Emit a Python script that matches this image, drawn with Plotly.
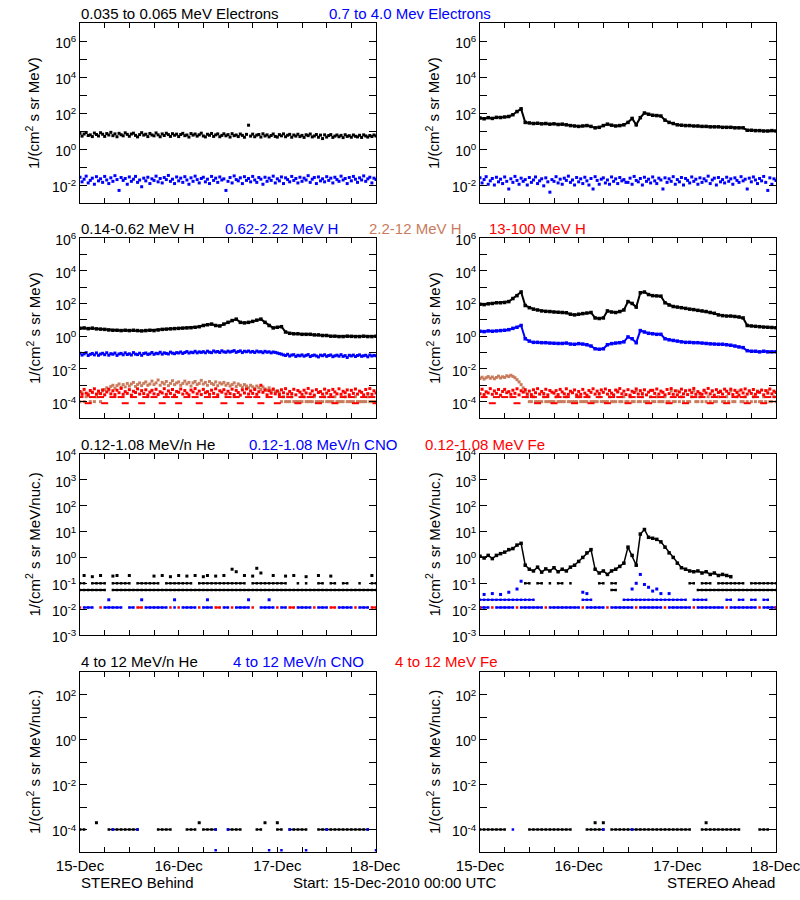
import plotly.graph_objects as go

N = None
HOURS = list(range(73))                  # hourly samples after 15-Dec-2010 00:00 UTC
HALF = [i * 0.5 for i in range(145)]     # half-hourly samples

# ---------------- Row 1: electrons ----------------
beh_e_lo = [7.5, 5.2, 6.8, 8.3, 5.6, 6.1, 4.9, 7.7, 6.4, 5.3, 8.0, 6.6,
            5.0, 7.2, 6.0, 8.4, 5.5, 6.9, 4.8, 7.4, 6.2, 5.4, 7.9, 6.5,
            5.1, 6.8, 7.6, 5.7, 4.7, 6.3, 8.1, 5.9, 6.6, 4.9, 7.3, 6.0,
            5.4, 7.8, 6.1, 4.8, 6.9, 5.6, 7.5, 6.3, 5.0, 7.1, 5.8, 6.7,
            4.9, 6.4, 7.4, 5.5, 6.0, 4.6, 7.2, 5.9, 6.8, 5.2, 6.2, 7.6,
            5.3, 4.7, 6.6, 5.8, 7.3, 5.0, 6.1, 6.9, 4.8, 5.7, 7.0, 5.4,
            6.3, 4.6, 7.1, 5.5, 6.0, 4.9, 6.8, 5.7, 4.5, 6.5, 21.0, 5.2,
            6.7, 4.8, 5.9, 6.4, 4.6, 7.0, 5.3, 6.1, 4.7, 5.6, 6.8, 5.0,
            4.6, 6.3, 5.4, 6.9, 4.8, 5.8, 6.5, 4.5, 6.0, 5.2, 6.6, 4.9,
            5.7, 4.4, 6.2, 5.5, 6.8, 4.7, 5.3, 6.4, 4.5, 5.9, 3.8, 6.1,
            4.6, 5.6, 6.3, 4.4, 5.2, 6.0, 4.8, 5.7, 4.3, 6.2, 5.0, 5.5,
            4.5, 6.0, 5.1, 4.7, 5.8, 4.4, 6.1, 5.3, 4.6, 5.6, 4.9, 6.0,
            5.2]
beh_e_hi = [0.027, 0.015, 0.021, 0.031, 0.013, 0.018, 0.024, 0.011, 0.029, 0.017, 0.022, 0.014,
            0.030, 0.019, 0.012, 0.025, 0.016, 0.033, 0.020, 0.005, 0.026, 0.018, 0.023, 0.011,
            0.028, 0.016, 0.021, 0.030, 0.014, 0.019, 0.008, 0.024, 0.017, 0.027, 0.012, 0.022,
            0.018, 0.031, 0.015, 0.023, 0.013, 0.026, 0.020, 0.034, 0.016, 0.021, 0.012, 0.028,
            0.017, 0.024, 0.014, 0.029, 0.019, 0.011, 0.025, 0.016, 0.031, 0.020, 0.013, 0.023,
            0.027, 0.015, 0.021, 0.012, 0.030, 0.018, 0.024, 0.014, 0.028, 0.019, 0.022, 0.005,
            0.016, 0.026, 0.013, 0.032, 0.020, 0.017, 0.025, 0.012, 0.029, 0.018, 0.023, 0.015,
            0.030, 0.019, 0.014, 0.026, 0.021, 0.011, 0.027, 0.016, 0.024, 0.018, 0.031, 0.013,
            0.022, 0.017, 0.028, 0.012, 0.025, 0.020, 0.015, 0.030, 0.018, 0.023, 0.013, 0.027,
            0.016, 0.024, 0.019, 0.033, 0.014, 0.021, 0.026, 0.012, 0.028, 0.017, 0.022, 0.015,
            0.029, 0.018, 0.024, 0.013, 0.027, 0.020, 0.016, 0.031, 0.019, 0.023, 0.012, 0.026,
            0.017, 0.030, 0.021, 0.014, 0.025, 0.019, 0.032, 0.016, 0.022, 0.027, 0.013, 0.024,
            0.020]
ahd_e_lo = [52, 48, 55, 50, 57, 56, 60, 64, 80, 120, 170, 30,
            28, 26, 27, 25, 26, 24, 25, 23, 24, 22, 20, 19,
            18, 19, 20, 18, 15, 16, 20, 24, 21, 19, 20, 22,
            30, 50, 22, 55, 100, 85, 75, 72, 68, 40, 30, 26,
            22, 21, 20, 20, 19, 19, 18, 18, 17, 17, 17, 16,
            16, 16, 15, 15, 15, 11, 11, 10.5, 10.5, 10, 10, 10.5, 10]
ahd_e_hi = [0.025, 0.013, 0.020, 0.029, 0.011, 0.017, 0.023, 0.010, 0.027, 0.015, 0.021, 0.012,
            0.028, 0.016, 0.006, 0.022, 0.014, 0.030, 0.018, 0.011, 0.024, 0.016, 0.020, 0.010,
            0.026, 0.014, 0.019, 0.028, 0.012, 0.017, 0.022, 0.009, 0.025, 0.015, 0.004, 0.020,
            0.016, 0.029, 0.013, 0.021, 0.011, 0.024, 0.018, 0.031, 0.014, 0.019, 0.010, 0.026,
            0.015, 0.022, 0.012, 0.027, 0.017, 0.010, 0.023, 0.006, 0.029, 0.018, 0.011, 0.021,
            0.025, 0.013, 0.019, 0.011, 0.028, 0.016, 0.022, 0.012, 0.026, 0.017, 0.020, 0.014,
            0.014, 0.024, 0.011, 0.030, 0.018, 0.015, 0.023, 0.010, 0.027, 0.016, 0.021, 0.013,
            0.028, 0.017, 0.012, 0.024, 0.019, 0.006, 0.025, 0.014, 0.022, 0.016, 0.029, 0.011,
            0.020, 0.015, 0.026, 0.010, 0.023, 0.018, 0.013, 0.028, 0.016, 0.021, 0.011, 0.025,
            0.014, 0.022, 0.017, 0.031, 0.012, 0.019, 0.024, 0.010, 0.026, 0.015, 0.020, 0.013,
            0.027, 0.016, 0.022, 0.011, 0.025, 0.018, 0.014, 0.029, 0.017, 0.021, 0.006, 0.024,
            0.015, 0.028, 0.019, 0.012, 0.023, 0.017, 0.030, 0.014, 0.005, 0.025, 0.011, 0.022,
            0.018]

# ---------------- Row 2: protons ----------------
beh_h1 = [3.0, 3.2, 2.9, 3.1, 2.8, 2.7, 2.6, 2.4, 2.3, 2.3, 2.2, 2.3,
          2.2, 2.3, 2.2, 2.1, 2.2, 2.3, 2.2, 2.4, 2.6, 2.7, 2.8, 2.9,
          3.0, 3.1, 3.2, 3.3, 3.5, 3.8, 4.5, 5.0, 5.5, 4.5, 4.2, 5.5,
          7.0, 9.0, 11.0, 7.0, 6.5, 7.0, 8.0, 9.5, 11.0, 7.0, 4.5, 3.2,
          3.5, 3.8, 1.8, 1.5, 1.4, 1.4, 1.3, 1.3, 1.3, 1.2, 1.2, 1.1,
          1.1, 1.0, 1.0, 0.95, 0.95, 1.0, 0.98, 0.95, 0.95, 1.0, 0.95, 0.95, 1.0]
beh_h2 = [0.092, 0.070, 0.083, 0.098, 0.066, 0.078, 0.088, 0.072, 0.095, 0.068, 0.081, 0.090,
          0.074, 0.097, 0.069, 0.085, 0.079, 0.093, 0.067, 0.082, 0.089, 0.073, 0.096, 0.076,
          0.084, 0.071, 0.099, 0.080, 0.075, 0.091, 0.068, 0.087, 0.094, 0.077, 0.083, 0.101,
          0.078, 0.090, 0.085, 0.104, 0.080, 0.096, 0.088, 0.082, 0.106, 0.092, 0.085, 0.099,
          0.094, 0.108, 0.088, 0.101, 0.115, 0.093, 0.105, 0.098, 0.119, 0.096, 0.110, 0.102,
          0.113, 0.097, 0.121, 0.105, 0.099, 0.125, 0.108, 0.116, 0.101, 0.128, 0.110, 0.104,
          0.122, 0.107, 0.118, 0.131, 0.103, 0.115, 0.126, 0.100, 0.120, 0.112, 0.124, 0.106,
          0.117, 0.101, 0.123, 0.109, 0.114, 0.098, 0.119, 0.105, 0.111, 0.096, 0.108, 0.102,
          0.094, 0.086, 0.080, 0.072, 0.066, 0.078, 0.061, 0.070, 0.074, 0.058, 0.068, 0.063,
          0.072, 0.060, 0.067, 0.075, 0.057, 0.065, 0.070, 0.062, 0.054, 0.069, 0.064, 0.073,
          0.059, 0.066, 0.071, 0.056, 0.063, 0.069, 0.060, 0.074, 0.058, 0.065, 0.050, 0.068,
          0.062, 0.070, 0.057, 0.066, 0.072, 0.059, 0.064, 0.068, 0.055, 0.071, 0.061, 0.067,
          0.063]
beh_h3 = [1.0e-4, 3.5e-4, 1.0e-4, 2.0e-4, 3.0e-4, 1.0e-4, 3.8e-4, 1.0e-4, 2.0e-4, 3.3e-4, 1.0e-4, 4.5e-4,
          5.5e-4, 7.0e-4, 5.0e-4, 8.5e-4, 1.0e-3, 6.5e-4, 9.5e-4, 1.2e-3, 7.5e-4, 1.1e-3, 8.0e-4, 1.3e-3,
          9.0e-4, 1.2e-3, 1.5e-3, 8.5e-4, 1.1e-3, 1.4e-3, 9.5e-4, 1.3e-3, 1.6e-3, 1.0e-3, 1.2e-3, 1.8e-3,
          1.1e-3, 1.4e-3, 2.1e-3, 1.0e-3, 1.5e-3, 1.2e-3, 1.7e-3, 9.5e-4, 1.3e-3, 1.9e-3, 1.1e-3, 1.4e-3,
          1.6e-3, 1.0e-3, 1.3e-3, 1.8e-3, 1.2e-3, 1.5e-3, 9.0e-4, 1.4e-3, 1.7e-3, 1.1e-3, 1.3e-3, 2.0e-3,
          1.2e-3, 1.5e-3, 1.0e-3, 1.7e-3, 1.3e-3, 1.1e-3, 1.6e-3, 9.5e-4, 1.4e-3, 1.2e-3, 1.5e-3, 1.0e-3,
          1.3e-3, 9.0e-4, 1.1e-3, 1.4e-3, 8.5e-4, 1.2e-3, 1.0e-3, 7.5e-4, 1.1e-3, 9.0e-4, 7.0e-4, 1.0e-3,
          8.0e-4, 6.5e-4, 9.0e-4, 7.0e-4, 5.5e-4, 8.0e-4, 6.0e-4, 5.0e-4, 7.0e-4, 4.5e-4, 5.5e-4, 4.0e-4,
          4.5e-4, 3.5e-4, 1.0e-4, 2.0e-4, 1.0e-4, 1.0e-4, 1.0e-4, 2.0e-4, 1.0e-4, 1.0e-4, 1.0e-4, 1.0e-4,
          1.0e-4, 2.0e-4, 1.0e-4, 1.0e-4, 1.0e-4, 1.0e-4, 2.0e-4, 1.0e-4, 1.0e-4, 1.0e-4, 1.0e-4, 2.0e-4,
          1.0e-4, 1.0e-4, 1.0e-4, 1.0e-4, 2.0e-4, 1.0e-4, 1.0e-4, 1.0e-4, 1.0e-4, 2.0e-4, 1.0e-4, 1.0e-4,
          1.0e-4, 1.0e-4, 2.0e-4, 1.0e-4, 1.0e-4, 1.0e-4, 1.0e-4, 1.0e-4, 2.0e-4, 1.0e-4, 1.0e-4, 1.0e-4,
          1.0e-4]
beh_h4 = [4.2e-4, 2.8e-4, 5.6e-4, 3.3e-4, 2.5e-4, 4.8e-4, 3.7e-4, 6.1e-4, 2.9e-4, 4.4e-4, 3.1e-4, 5.2e-4,
          2.6e-4, 3.9e-4, 5.8e-4, 3.0e-4, 4.6e-4, 2.7e-4, 5.0e-4, 3.5e-4, 6.4e-4, 2.8e-4, 4.1e-4, 3.2e-4,
          5.4e-4, 2.5e-4, 4.3e-4, 3.6e-4, 6.0e-4, 2.9e-4, 4.7e-4, 3.1e-4, 5.3e-4, 2.6e-4, 3.8e-4, 4.9e-4,
          3.0e-4, 5.7e-4, 2.7e-4, 4.0e-4, 3.4e-4, 6.2e-4, 2.8e-4, 4.5e-4, 3.2e-4, 5.5e-4, 2.5e-4, 4.2e-4,
          3.7e-4, 5.9e-4, 2.9e-4, 4.8e-4, 3.3e-4, 2.6e-4, 5.1e-4, 3.9e-4, 6.3e-4, 3.0e-4, 4.4e-4, 2.7e-4,
          5.6e-4, 3.5e-4, 4.1e-4, 2.8e-4, 5.0e-4, 3.2e-4, 6.1e-4, 2.6e-4, 4.6e-4, 3.8e-4, 5.4e-4, 2.9e-4,
          4.3e-4, 3.1e-4, 5.8e-4, 2.7e-4, 4.9e-4, 3.6e-4, 2.5e-4, 5.2e-4, 3.4e-4, 6.0e-4, 2.9e-4, 4.5e-4,
          3.2e-4, 5.5e-4, 2.8e-4, 4.0e-4, 1.0e-3, 3.7e-4, 5.1e-4, 2.6e-4, 4.7e-4, 3.3e-4, 5.9e-4, 3.0e-4,
          4.4e-4, 2.7e-4, 5.3e-4, 3.5e-4, 6.2e-4, 2.9e-4, 4.2e-4, 3.1e-4, 5.7e-4, 2.6e-4, 4.8e-4, 3.8e-4,
          2.8e-4, 5.0e-4, 3.4e-4, 6.4e-4, 3.0e-4, 4.5e-4, 2.5e-4, 5.4e-4, 3.6e-4, 4.1e-4, 2.9e-4, 5.8e-4,
          3.3e-4, 4.7e-4, 2.7e-4, 5.6e-4, 3.9e-4, 3.0e-4, 6.1e-4, 2.8e-4, 4.3e-4, 3.5e-4, 5.2e-4, 2.6e-4,
          4.9e-4, 3.2e-4, 5.9e-4, 2.9e-4, 4.4e-4, 3.7e-4, 2.6e-4, 5.5e-4, 3.1e-4, 6.3e-4, 2.8e-4, 4.6e-4,
          3.4e-4]
beh_h4_low = [1.9e-4, N, 8e-5, 1.9e-4, N, 1.9e-4, 8e-5, N, 1.9e-4, N, 1.9e-4, 8e-5,
              N, 1.9e-4, N, 8e-5, 1.9e-4, N, 1.9e-4, N, 8e-5, 1.9e-4, N, 1.9e-4,
              8e-5, N, 1.9e-4, N, 1.9e-4, 8e-5, N, 1.9e-4, N, 1.9e-4, N, 8e-5,
              1.9e-4, N, 1.9e-4, 8e-5, N, 1.9e-4, N, 1.9e-4, 8e-5, N, 1.9e-4, N,
              8e-5, 1.9e-4, N, 1.9e-4, N, 8e-5, 1.9e-4, N, 1.9e-4, N, 8e-5, 1.9e-4,
              N, 1.9e-4, 8e-5, N, 1.9e-4, N, 1.9e-4, 8e-5, N, 1.9e-4, N, 1.9e-4, 8e-5]

ahd_h1 = [90, 85, 95, 100, 110, 110, 115, 130, 200, 300, 500, 75,
          55, 45, 40, 35, 33, 32, 30, 29, 28, 27, 22, 20,
          22, 24, 26, 28, 13, 12, 13, 35, 30, 28, 32, 40,
          130, 100, 60, 450, 500, 350, 300, 290, 280, 110, 80, 65,
          60, 55, 50, 45, 42, 38, 35, 32, 28, 25, 20, 18,
          17, 17, 16, 15, 13, 4.5, 4.2, 4.0, 3.8, 3.6, 3.5, 3.4, 3.3]
ahd_h2 = [2.0, 1.9, 2.1, 2.0, 2.1, 2.2, 2.3, 2.5, 3.0, 3.5, 4.5, 0.7,
          0.5, 0.42, 0.42, 0.4, 0.4, 0.38, 0.37, 0.36, 0.36, 0.38, 0.33, 0.32,
          0.35, 0.33, 0.3, 0.25, 0.17, 0.16, 0.17, 0.3, 0.35, 0.38, 0.4, 0.45,
          0.9, 0.7, 0.4, 2.2, 1.8, 1.5, 1.4, 1.3, 1.3, 0.7, 0.6, 0.55,
          0.5, 0.45, 0.42, 0.42, 0.4, 0.4, 0.38, 0.36, 0.34, 0.33, 0.32, 0.32,
          0.3, 0.28, 0.25, 0.22, 0.2, 0.13, 0.12, 0.12, 0.11, 0.12, 0.11, 0.11, 0.11]
ahd_h3 = [2.6e-3, 3.1e-3, 2.4e-3, 2.9e-3, 3.4e-3, 2.7e-3, 3.2e-3, 2.5e-3, 3.0e-3, 3.6e-3, 2.8e-3, 3.3e-3,
          3.0e-3, 3.8e-3, 3.4e-3, 4.1e-3, 3.5e-3, 2.9e-3, 2.2e-3, 1.6e-3, 1.1e-3, 7.0e-4, 4.0e-4, 2.0e-4,
          1.0e-4, 1.0e-4, 2.0e-4, 1.0e-4, 1.0e-4, 1.0e-4, 1.0e-4, 2.0e-4, 1.0e-4, 1.0e-4, 1.0e-4, 1.0e-4,
          1.0e-4, 2.0e-4, 1.0e-4, 1.0e-4, 1.0e-4, 1.0e-4, 2.0e-4, 1.0e-4, 1.0e-4, 1.0e-4, 1.0e-4, 1.0e-4,
          2.0e-4, 1.0e-4, 1.0e-4, 1.0e-4, 1.0e-4, 2.0e-4, 1.0e-4, 1.0e-4, 1.0e-4, 1.0e-4, 2.0e-4, 1.0e-4,
          1.0e-4, 1.0e-4, 1.0e-4, 2.0e-4, 1.0e-4, 1.0e-4, 1.0e-4, 4.5e-4, 1.0e-4, 1.0e-4, 2.0e-4, 1.0e-4,
          1.0e-4, 2.0e-4, 1.0e-4, 1.0e-4, 4.5e-4, 1.0e-4, 1.0e-4, 2.0e-4, 1.0e-4, 1.0e-4, 1.0e-4, 2.0e-4,
          1.0e-4, 1.0e-4, 2.0e-4, 1.0e-4, 1.0e-4, 1.0e-4, 2.0e-4, 1.0e-4, 1.0e-4, 4.5e-4, 1.0e-4, 1.0e-4,
          4.5e-4, 1.0e-4, 2.0e-4, 1.0e-4, 4.5e-4, 1.0e-4, 1.0e-4, 2.0e-4, 4.5e-4, 1.0e-4, 1.0e-4, 2.0e-4,
          1.0e-4, 4.5e-4, 1.0e-4, 2.0e-4, 1.0e-4, 4.5e-4, 1.0e-4, 1.0e-4, 2.0e-4, 4.5e-4, 1.0e-4, 1.0e-4,
          2.0e-4, 1.0e-4, 4.5e-4, 1.0e-4, 1.0e-4, 2.0e-4, 4.5e-4, 1.0e-4, 1.0e-4, 2.0e-4, 1.0e-4, 4.5e-4,
          1.0e-4, 2.0e-4, 1.0e-4, 4.5e-4, 1.0e-4, 1.0e-4, 2.0e-4, 1.0e-4, 4.5e-4, 1.0e-4, 1.0e-4, 2.0e-4,
          1.0e-4]
ahd_h4 = [3.0e-4, 5.7e-4, 2.7e-4, 4.0e-4, 3.4e-4, 6.2e-4, 2.8e-4, 4.5e-4, 3.2e-4, 5.5e-4, 2.5e-4, 4.2e-4,
          5.6e-4, 3.5e-4, 4.1e-4, 2.8e-4, 5.0e-4, 3.2e-4, 6.1e-4, 2.6e-4, 4.6e-4, 3.8e-4, 5.4e-4, 2.9e-4,
          4.4e-4, 2.7e-4, 5.3e-4, 3.5e-4, 6.2e-4, 2.9e-4, 4.2e-4, 3.1e-4, 5.7e-4, 2.6e-4, 4.8e-4, 3.8e-4,
          3.3e-4, 4.7e-4, 2.7e-4, 5.6e-4, 3.9e-4, 3.0e-4, 6.1e-4, 2.8e-4, 4.3e-4, 3.5e-4, 5.2e-4, 2.6e-4,
          4.2e-4, 2.8e-4, 5.6e-4, 3.3e-4, 2.5e-4, 4.8e-4, 3.7e-4, 6.1e-4, 2.9e-4, 4.4e-4, 3.1e-4, 5.2e-4,
          3.7e-4, 5.9e-4, 2.9e-4, 4.8e-4, 3.3e-4, 2.6e-4, 5.1e-4, 3.9e-4, 6.3e-4, 3.0e-4, 4.4e-4, 2.7e-4,
          5.4e-4, 2.5e-4, 4.3e-4, 3.6e-4, 6.0e-4, 2.9e-4, 4.7e-4, 3.1e-4, 5.3e-4, 2.6e-4, 3.8e-4, 4.9e-4,
          4.9e-4, 3.2e-4, 5.9e-4, 2.9e-4, 4.4e-4, 3.7e-4, 2.6e-4, 5.5e-4, 3.1e-4, 6.3e-4, 2.8e-4, 4.6e-4,
          2.6e-4, 3.9e-4, 5.8e-4, 3.0e-4, 4.6e-4, 2.7e-4, 5.0e-4, 3.5e-4, 6.4e-4, 2.8e-4, 4.1e-4, 3.2e-4,
          2.8e-4, 5.0e-4, 3.4e-4, 6.4e-4, 3.0e-4, 4.5e-4, 2.5e-4, 5.4e-4, 3.6e-4, 4.1e-4, 2.9e-4, 5.8e-4,
          4.3e-4, 3.1e-4, 5.8e-4, 2.7e-4, 4.9e-4, 3.6e-4, 2.5e-4, 5.2e-4, 3.4e-4, 6.0e-4, 2.9e-4, 4.5e-4,
          3.2e-4, 5.5e-4, 2.8e-4, 4.0e-4, 3.7e-4, 5.1e-4, 2.6e-4, 4.7e-4, 3.3e-4, 5.9e-4, 3.0e-4, 4.4e-4,
          3.6e-4]
ahd_h4_low = [N, 1.9e-4, N, 8e-5, 1.9e-4, N, 1.9e-4, N, 1.9e-4, 8e-5, N, 1.9e-4,
              N, 1.9e-4, 8e-5, N, 1.9e-4, N, 8e-5, 1.9e-4, N, 1.9e-4, N, 8e-5,
              1.9e-4, N, 1.9e-4, 8e-5, N, 1.9e-4, N, 8e-5, 1.9e-4, N, 1.9e-4, N,
              8e-5, 1.9e-4, N, 1.9e-4, N, 8e-5, 1.9e-4, N, 1.9e-4, N, 8e-5, 1.9e-4,
              N, 1.9e-4, 8e-5, N, 1.9e-4, N, 1.9e-4, N, 8e-5, 1.9e-4, N, 1.9e-4,
              8e-5, N, 1.9e-4, N, 1.9e-4, 8e-5, N, 1.9e-4, N, 8e-5, 1.9e-4, N, 1.9e-4]

# ---------------- Row 3: 0.12-1.08 MeV/n ions ----------------
beh_he_lo = [0.055, 0.055, 0.055, 0.055, 0.055, 0.055, 0.055, N, 0.055, 0.055, 0.055, 0.055,
             0.055, 0.055, 0.055, 0.055, 0.055, 0.055, 0.055, 0.055, 0.055, 0.055, 0.055, 0.055,
             0.055, 0.055, 0.055, 0.055, 0.055, 0.055, 0.055, 0.055, 0.055, 0.055, 0.055, 0.055,
             0.055, 0.055, 0.055, 0.055, 0.055, 0.055, 0.055, 0.055, 0.055, 0.055, 0.055, 0.055,
             0.055, 0.055, 0.055, 0.055, 0.055, 0.055, 0.055, 0.055, 0.055, 0.055, 0.055, 0.055,
             0.055, 0.055, 0.055, 0.055, 0.055, 0.055, 0.055, 0.055, 0.055, 0.055, 0.055, 0.055, 0.055]
beh_he_mid = [0.1, 0.1, N, 0.1, 0.1, 0.1, 0.1, N, 0.1, 0.1, 0.1, 0.1,
              0.1, N, 0.1, 0.1, 0.1, 0.1, 0.1, 0.1, N, 0.1, 0.1, 0.1,
              0.1, 0.1, 0.1, 0.1, N, 0.1, 0.1, 0.1, 0.1, 0.1, 0.1, 0.1,
              0.1, 0.1, 0.1, 0.1, 0.1, N, 0.1, 0.1, 0.1, 0.1, 0.1, 0.1,
              0.1, 0.1, 0.1, N, N, 0.1, N, 0.1, N, N, 0.1, 0.1,
              N, 0.1, 0.1, N, 0.1, 0.1, N, N, 0.1, N, N, 0.1, 0.1]
beh_he_hi_t = [1, 3, 5, 8, 9, 12, 18, 20, 22, 24, 26, 28, 30, 31, 33, 35, 37, 38, 40, 42, 43, 44, 47, 50, 52, 55, 58, 61, 71]
beh_he_hi = [0.2, 0.18, 0.2, 0.19, 0.2, 0.2, 0.19, 0.2, 0.18, 0.2, 0.19, 0.2, 0.18, 0.2, 0.19, 0.2, 0.35, 0.28, 0.2, 0.19, 0.38, 0.25, 0.2, 0.19, 0.2, 0.18, 0.2, 0.19, 0.2]
beh_cno = [N, 0.0116, 0.0116, 0.0116, N, N, 0.0116, 0.0116, 0.0116, 0.0116, 0.0116, N,
           0.0116, 0.0116, N, N, 0.0116, 0.0116, 0.0116, 0.0116, 0.0116, 0.0116, N, 0.0116,
           N, 0.0116, 0.0116, 0.0116, 0.0116, N, 0.0116, 0.0116, 0.0116, N, N, 0.0116,
           0.0116, N, 0.0116, 0.0116, 0.0116, 0.0116, N, N, 0.0116, 0.0116, 0.0116, 0.0116,
           N, 0.0116, 0.0116, N, N, 0.0116, 0.0116, 0.0116, 0.0116, N, 0.0116, 0.0116,
           0.0116, N, N, 0.0116, 0.0116, 0.0116, 0.0116, N, 0.0116, 0.0116, 0.0116, N, N]
beh_cno_hi_t = [7, 15, 23, 31, 41, 46]
beh_cno_hi = [0.023, 0.023, 0.023, 0.023, 0.023, 0.023]
beh_fe = [0.0116, N, N, N, N, 0.0116, N, N, N, N, N, N,
          N, N, 0.0116, 0.0116, N, N, N, N, N, N, 0.0116, N,
          0.0116, N, N, N, N, 0.0116, N, N, N, 0.0116, 0.0116, N,
          N, 0.0116, N, N, N, N, 0.0116, N, N, N, N, N,
          0.0116, N, N, 0.0116, 0.0116, N, N, N, N, 0.0116, N, N,
          N, 0.0116, 0.0116, N, N, N, N, 0.0116, N, N, N, 0.0116, 0.0116]

ahd_he = [1.1, 0.95, 1.2, 0.9, 1.2, 1.4, 1.6, 2.0, 2.2, 3.0, 3.5, 0.5,
          0.35, 0.3, 0.42, 0.27, 0.36, 0.3, 0.4, 0.28, 0.35, 0.3, 0.42, 0.5,
          0.7, 1.0, 1.5, 2.0, 0.35, 0.25, 0.3, 0.22, 0.3, 0.35, 0.45, 0.6,
          2.5, 1.2, 0.5, 8.0, 12.0, 6.0, 5.5, 5.0, 4.0, 2.5, 1.5, 1.0,
          0.6, 0.4, 0.35, 0.3, 0.28, 0.3, 0.25, 0.28, 0.22, 0.25, 0.2, 0.22,
          0.2, 0.18]
ahd_he_mid = [N, N, N, N, N, N, N, N, N, N, N, 0.1,
              0.1, N, 0.1, 0.1, N, 0.1, N, 0.1, 0.1, N, 0.1, N,
              N, N, N, N, N, 0.1, 0.1, N, 0.1, 0.1, N, N,
              N, N, N, N, N, N, N, N, N, N, N, N,
              N, N, N, 0.1, 0.1, N, 0.1, 0.1, 0.1, N, 0.1, 0.1,
              0.1, 0.1, 0.1, 0.1, 0.1, N, 0.1, 0.1, 0.1, 0.1, 0.1, 0.1, 0.1]
ahd_he_lo = [N, N, N, N, N, N, N, N, N, N, N, N,
             N, N, N, N, N, N, N, N, N, N, N, N,
             N, N, N, N, N, N, N, N, 0.055, 0.055, N, N,
             N, N, N, N, N, N, N, N, N, N, N, N,
             N, N, N, N, N, 0.055, 0.055, 0.055, 0.055, 0.055, 0.055, 0.055,
             0.055, 0.055, 0.055, 0.055, 0.055, 0.055, 0.055, 0.055, 0.055, 0.055, 0.055, 0.055, 0.055]
ahd_cno = [0.0116, 0.0116, 0.0116, N, 0.0116, 0.0116, 0.0116, 0.0116, 0.0116, N, 0.0116, 0.0116,
           0.0116, 0.0116, 0.0116, 0.0116, N, 0.0116, 0.0116, 0.0116, 0.0116, 0.0116, 0.0116, 0.0116,
           0.0116, N, 0.0116, 0.0116, 0.0116, 0.0116, 0.0116, N, 0.0116, 0.0116, 0.0116, 0.0116,
           0.0116, 0.0116, N, 0.0116, 0.0116, 0.0116, 0.0116, 0.0116, 0.0116, N, 0.0116, 0.0116,
           0.0116, 0.0116, 0.0116, 0.0116, N, 0.0116, 0.0116, 0.0116, 0.0116, 0.0116, 0.0116, 0.0116,
           N, 0.0116, 0.0116, 0.0116, 0.0116, 0.0116, 0.0116, 0.0116, N, 0.0116, 0.0116, 0.0116, 0.0116]
ahd_cno_mid = [0.023, 0.023, 0.023, 0.023, 0.023, 0.023, 0.023, 0.023, 0.023, 0.023, 0.023, 0.023,
               0.023, 0.023, N, N, N, N, N, N, N, N, N, N,
               N, 0.023, 0.023, 0.023, N, N, N, N, N, N, N, 0.023,
               0.023, 0.023, 0.023, 0.023, 0.023, 0.023, 0.023, 0.023, 0.023, 0.023, 0.023, 0.023,
               0.023, 0.023, 0.023, N, 0.023, 0.023, 0.023, 0.023, N, N, N, N,
               0.023, 0.023, N, 0.023, 0.023, N, 0.023, 0.023, N, 0.023, 0.023, N, N]
ahd_cno_hi_t = [1, 3, 5, 7, 9, 10, 25, 26, 37, 38, 39, 40, 41, 42, 43, 44, 46]
ahd_cno_hi = [0.037, 0.04, 0.037, 0.045, 0.06, 0.12, 0.045, 0.04, 0.06, 0.1, 0.22, 0.09, 0.07, 0.05, 0.06, 0.04, 0.04]
ahd_fe = [0.0116, N, N, 0.0116, N, N, N, N, N, 0.0116, N, N,
          N, N, N, N, 0.0116, N, N, N, N, N, N, N,
          N, 0.0116, N, N, N, N, N, 0.0116, N, N, N, N,
          N, N, 0.0116, N, N, N, N, N, N, 0.0116, N, N,
          N, N, N, N, 0.0116, N, N, N, N, N, N, N,
          0.0116, N, N, N, N, N, N, N, 0.0116, N, N, N, 0.0116]

# ---------------- Row 4: 4-12 MeV/n ions ----------------
beh4_he = [1e-4, 1e-4, N, N, N, N, N, 1e-4, 1e-4, 1e-4, 1e-4, 1e-4,
           1e-4, 1e-4, 1e-4, N, N, N, N, 1e-4, 1e-4, 1e-4, 1e-4, N,
           N, N, 1e-4, 1e-4, 1e-4, N, 1e-4, 1e-4, 1e-4, 1e-4, N, N,
           1e-4, 1e-4, 1e-4, 1e-4, N, N, N, 1e-4, 1e-4, N, N, N,
           1e-4, 1e-4, N, 1e-4, 1e-4, 1e-4, 1e-4, 1e-4, N, N, 1e-4, 1e-4,
           1e-4, 1e-4, 1e-4, 1e-4, 1e-4, 1e-4, 1e-4, 1e-4, 1e-4, 1e-4, 1e-4, N, N]
beh4_he_hi_t = [4, 29, 45, 48]
beh4_he_hi = [2e-4, 2e-4, 2e-4, 2e-4]
beh4_cno_t = [8, 14, 33, 36, 51, 60, 70, 33, 46, 49, 55, 72]
beh4_cno = [1e-4, 1e-4, 1e-4, 1e-4, 1e-4, 1e-4, 1e-4, 1.2e-5, 1.2e-5, 1.2e-5, 1.2e-5, 1.2e-5]
ahd4_he = [1e-4, 1e-4, 1e-4, 1e-4, 1e-4, 1e-4, 1e-4, N, N, N, N, N,
           1e-4, 1e-4, 1e-4, 1e-4, 1e-4, 1e-4, 1e-4, 1e-4, 1e-4, 1e-4, 1e-4, N,
           N, N, 1e-4, 1e-4, 1e-4, 1e-4, 1e-4, N, 1e-4, 1e-4, 1e-4, 1e-4,
           1e-4, 1e-4, 1e-4, 1e-4, 1e-4, 1e-4, 1e-4, 1e-4, 1e-4, 1e-4, 1e-4, 1e-4,
           1e-4, 1e-4, 1e-4, 1e-4, N, N, 1e-4, 1e-4, 1e-4, 1e-4, 1e-4, 1e-4,
           1e-4, 1e-4, 1e-4, 1e-4, N, N, N, N, 1e-4, 1e-4, 1e-4, N, N]
ahd4_he_hi_t = [28, 30, 55]
ahd4_he_hi = [2e-4, 2e-4, 2e-4]
ahd4_cno_t = [8, 30, 37]
ahd4_cno = [1e-4, 1e-4, 1e-4]

BLACK, BLUE, SIENNA, RED = "#000000", "#0000ff", "#c97c5d", "#ff0000"

fig = go.Figure()


def axes_ids(i):
    return ("x" if i == 1 else f"x{i}"), ("y" if i == 1 else f"y{i}")


def band(i, values, color, size=3.5, width=2):
    """Structured time series: dots joined by a thick trace."""
    xa, ya = axes_ids(i)
    fig.add_trace(go.Scatter(x=HOURS[:len(values)], y=values, xaxis=xa, yaxis=ya, mode="lines+markers",
                             line=dict(color=color, width=width),
                             marker=dict(color=color, size=size, symbol="square", line=dict(width=0)),
                             showlegend=False, hoverinfo="skip", connectgaps=False))


def cloud(i, values, color, size=3):
    """Noisy half-hourly series: unjoined dots."""
    xa, ya = axes_ids(i)
    fig.add_trace(go.Scatter(x=HALF[:len(values)], y=values, xaxis=xa, yaxis=ya, mode="markers",
                             marker=dict(color=color, size=size, symbol="square", line=dict(width=0)),
                             showlegend=False, hoverinfo="skip"))


def dots(i, times, values, color, size=3):
    xa, ya = axes_ids(i)
    fig.add_trace(go.Scatter(x=times, y=values, xaxis=xa, yaxis=ya, mode="markers",
                             marker=dict(color=color, size=size, symbol="square", line=dict(width=0)),
                             showlegend=False, hoverinfo="skip"))


def dashes(i, values, color, size=5):
    xa, ya = axes_ids(i)
    fig.add_trace(go.Scatter(x=HOURS[:len(values)], y=values, xaxis=xa, yaxis=ya, mode="markers",
                             marker=dict(color=color, size=size, symbol="line-ew",
                                         line=dict(color=color, width=2)),
                             showlegend=False, hoverinfo="skip"))


def floor(i, values, color, width=2):
    xa, ya = axes_ids(i)
    fig.add_trace(go.Scatter(x=HOURS[:len(values)], y=values, xaxis=xa, yaxis=ya, mode="lines+markers",
                             line=dict(color=color, width=width),
                             marker=dict(color=color, size=2.5, symbol="square", line=dict(width=0)),
                             showlegend=False, hoverinfo="skip", connectgaps=False))


# Row 1
cloud(1, beh_e_lo, BLACK)
cloud(1, beh_e_hi, BLUE)
band(2, ahd_e_lo, BLACK)
cloud(2, ahd_e_hi, BLUE)
# Row 2
cloud(3, beh_h3, SIENNA)
cloud(3, beh_h4, RED)
dashes(3, beh_h4_low, RED)
cloud(3, beh_h2, BLUE)
band(3, beh_h1, BLACK)
cloud(4, ahd_h3, SIENNA)
cloud(4, ahd_h4, RED)
dashes(4, ahd_h4_low, RED)
band(4, ahd_h2, BLUE)
band(4, ahd_h1, BLACK)
# Row 3
floor(5, beh_he_lo, BLACK)
floor(5, beh_he_mid, BLACK, width=1.5)
dots(5, beh_he_hi_t, beh_he_hi, BLACK)
floor(5, beh_cno, BLUE)
floor(5, beh_fe, RED)
dots(5, beh_cno_hi_t, beh_cno_hi, BLUE)
floor(6, ahd_he_lo, BLACK)
floor(6, ahd_he_mid, BLACK, width=1.5)
band(6, ahd_he, BLACK, width=1.5)
floor(6, ahd_cno, BLUE)
floor(6, ahd_fe, RED)
floor(6, ahd_cno_mid, BLUE, width=1.5)
dots(6, ahd_cno_hi_t, ahd_cno_hi, BLUE)
# Row 4
floor(7, beh4_he, BLACK, width=1.5)
dots(7, beh4_he_hi_t, beh4_he_hi, BLACK)
dots(7, beh4_cno_t, beh4_cno, BLUE, size=2.5)
floor(8, ahd4_he, BLACK, width=1.5)
dots(8, ahd4_he_hi_t, ahd4_he_hi, BLACK)
dots(8, ahd4_cno_t, ahd4_cno, BLUE, size=2.5)

W, H = 800, 900
FONT = "Liberation Sans"


def fx(px):
    return px / W


def fy(py):
    return 1 - py / H


cols = [(80, 376), (480, 776)]
rows = [(23, 203, -3, 7, 2), (238, 418, -5, 6, 2), (454, 635, -3, 4, 1), (672, 852, -5, 3, 2)]
xt_text = ["15-Dec", "", "", "", "16-Dec", "", "", "", "17-Dec", "", "", "", "18-Dec"]
layout = {}
for r, (top, bot, lo, hi, step) in enumerate(rows):
    for c, (left, right) in enumerate(cols):
        i = r * 2 + c + 1
        xa, ya = axes_ids(i)
        xk = "xaxis" if i == 1 else f"xaxis{i}"
        yk = "yaxis" if i == 1 else f"yaxis{i}"
        layout[xk] = dict(domain=[fx(left), fx(right)], range=[0, 72], anchor=ya, automargin=False,
                          tickmode="array", tickvals=list(range(0, 73, 6)), ticktext=xt_text,
                          showticklabels=(r == 3), ticks="inside", ticklen=5, tickwidth=1,
                          tickcolor="black", showline=True, linecolor="black", linewidth=1,
                          mirror="ticks", showgrid=False, zeroline=False, ticklabeloverflow="allow",
                          tickfont=dict(family=FONT, size=15, color="black"))
        ks = list(range(lo, hi + 1))
        layout[yk] = dict(domain=[fy(bot), fy(top)], type="log", range=[lo, hi], anchor=xa,
                          automargin=False, tickmode="array", tickvals=[10.0 ** k for k in ks],
                          ticktext=[f"10<sup>{k}</sup>" if k % step == 0 else "" for k in ks],
                          ticks="inside", ticklen=7, tickwidth=1, tickcolor="black",
                          showline=True, linecolor="black", linewidth=1, mirror="ticks",
                          showgrid=False, zeroline=False, ticklabelshift=2, ticklabeloverflow="allow",
                          tickfont=dict(family=FONT, size=14, color="black"))

ann = []


def text(x, y, s, color="black", anchor="left", angle=0, size=15):
    ann.append(dict(x=fx(x), y=fy(y), xref="paper", yref="paper", text=s, showarrow=False,
                    xanchor=anchor, yanchor="middle", textangle=angle, borderpad=0,
                    font=dict(family=FONT, size=size, color=color)))


text(80, 13, "0.035 to 0.065 MeV Electrons")
text(328, 13, "0.7 to 4.0 Mev Electrons", BLUE)
text(80, 228, "0.14-0.62 MeV H")
text(224, 228, "0.62-2.22 MeV H", BLUE)
text(368, 228, "2.2-12 MeV H", SIENNA)
text(488, 228, "13-100 MeV H", RED)
text(80, 444, "0.12-1.08 MeV/n He")
text(248, 444, "0.12-1.08 MeV/n CNO", BLUE)
text(424, 444, "0.12-1.08 MeV Fe", RED)
text(80, 661, "4 to 12 MeV/n He")
text(232, 661, "4 to 12 MeV/n CNO", BLUE)
text(394, 661, "4 to 12 MeV Fe", RED)
for r, (top, bot, lo, hi, step) in enumerate(rows):
    unit = "1/(cm<sup>2</sup> s sr MeV)" if r < 2 else "1/(cm<sup>2</sup> s sr MeV/nuc.)"
    for c, (left, right) in enumerate(cols):
        text(left - 47, (top + bot) / 2, unit, anchor="center", angle=-90)
text(80, 882, "STEREO Behind")
text(292, 882, "Start: 15-Dec-2010 00:00 UTC")
text(776, 882, "STEREO Ahead", anchor="right")

fig.update_layout(template="none", width=W, height=H, margin=dict(l=0, r=0, t=0, b=0, pad=0),
                  paper_bgcolor="white", plot_bgcolor="white", annotations=ann,
                  font=dict(family=FONT, color="black"), **layout)
# Remove the page's default 8 px body margin so the 800x900 figure fills the window exactly;
# hide the interactive mode bar, which is not part of the static chart.
fig.write_html("out.html", config={"displayModeBar": False},
               post_script="document.body.style.margin='0px';")
